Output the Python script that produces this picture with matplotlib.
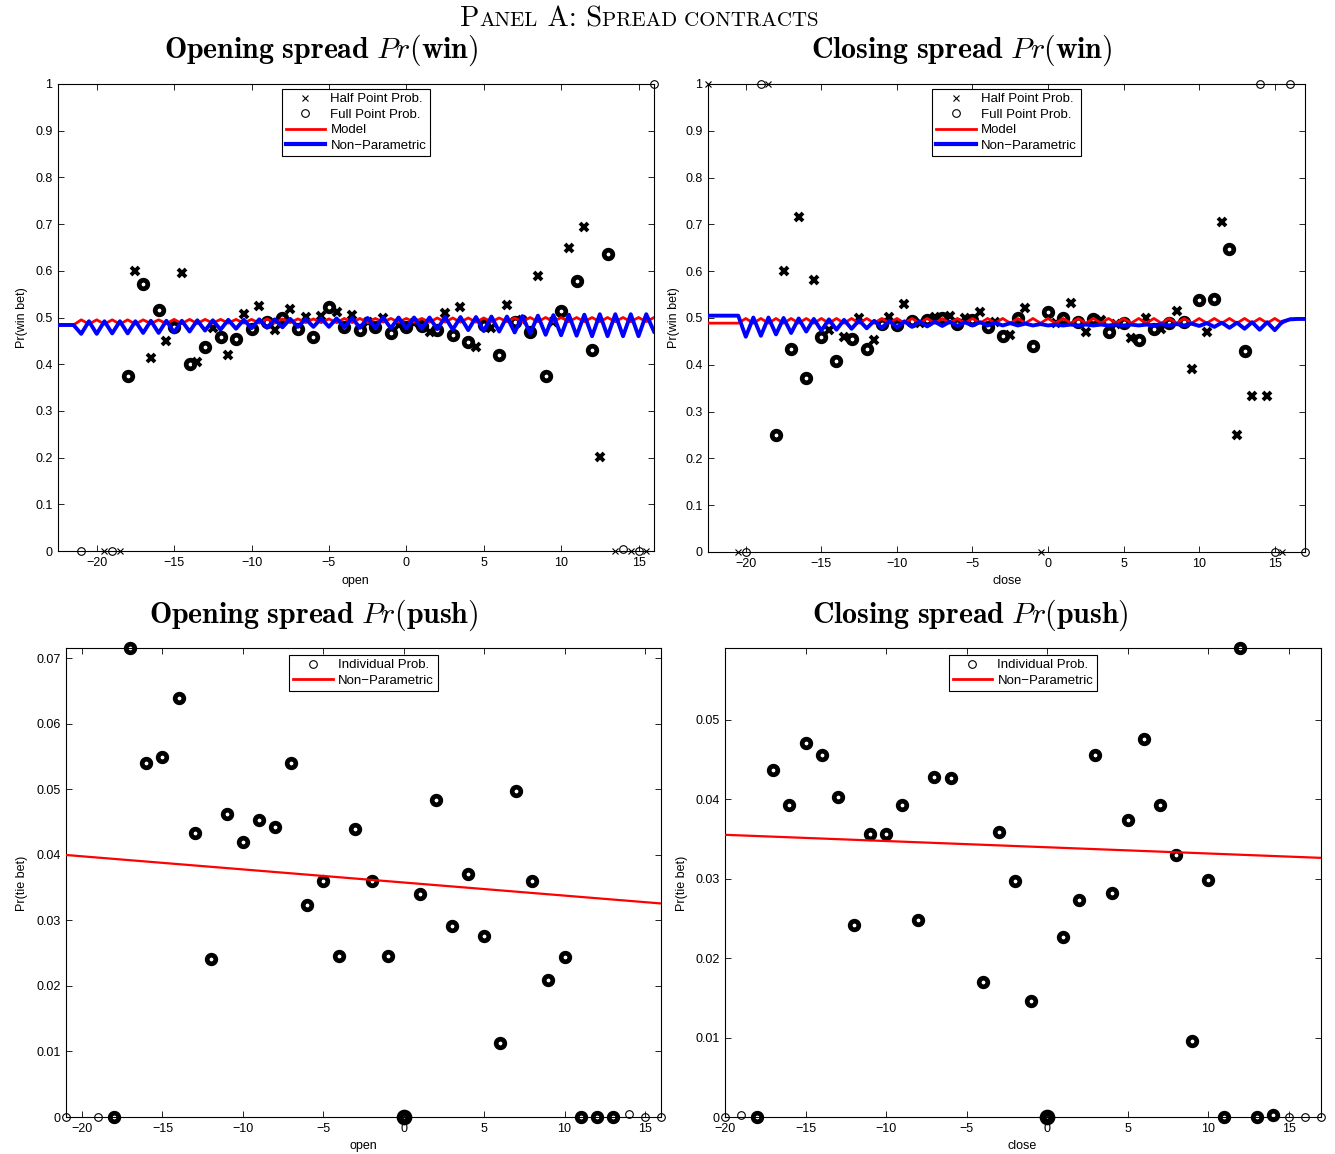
import numpy as np
import matplotlib
matplotlib.use("Agg")
import matplotlib.pyplot as plt
from matplotlib.lines import Line2D
from matplotlib.ticker import FormatStrFormatter
from matplotlib.offsetbox import TextArea, HPacker, AnchoredOffsetbox

plt.rcParams['font.family'] = ['Liberation Sans', 'DejaVu Sans']
plt.rcParams['mathtext.fontset'] = 'cm'

# ---------------- Pr(win), opening spread ----------------
open_half_x = [-19.5, -18.5, -17.5, -16.5, -15.5, -14.5, -13.5, -12.5, -11.5, -10.5, -9.5, -8.5,
               -7.5, -6.5, -5.5, -4.5, -3.5, -2.5, -1.5, -0.5, 0.5, 1.5, 2.5, 3.5, 4.5, 5.5,
               6.5, 7.5, 8.5, 9.5, 10.5, 11.5, 12.5, 13.5, 14.5, 15.5]
open_half_p = [0.0, 0.0, 0.600, 0.413, 0.450, 0.595, 0.405, 0.478, 0.420, 0.507, 0.525, 0.473,
               0.518, 0.501, 0.503, 0.512, 0.506, 0.490, 0.499, 0.485, 0.488, 0.469, 0.510, 0.523, 0.437, 0.477,
               0.527, 0.495, 0.589, 0.490, 0.648, 0.694, 0.201, 0.0, 0.0, 0.0]
open_full_x = [-21, -19, -18, -17, -16, -15, -14, -13, -12, -11, -10, -9, -8, -7, -6, -5, -4,
               -3, -2, -1, 0, 1, 2, 3, 4, 5, 6, 7, 8, 9, 10, 11, 12, 13, 14, 15, 16]
open_full_p = [0.0, 0.0, 0.375, 0.572, 0.515, 0.479, 0.400, 0.437, 0.458, 0.455, 0.475, 0.491, 0.498,
               0.475, 0.459, 0.523, 0.479, 0.473, 0.479, 0.466, 0.479, 0.482, 0.473, 0.462, 0.448,
               0.484, 0.420, 0.491, 0.470, 0.375, 0.514, 0.579, 0.430, 0.636, 0.005, 0.0, 1.0]

# fitted curves on the half-point grid: whole-point spreads and half-point spreads
open_curve_int_x = list(range(-22, 17))
open_curve_half_x = [v - 0.5 for v in range(-22, 17)]
open_model_int = [0.484, 0.495, 0.495, 0.495, 0.495, 0.495, 0.495, 0.496, 0.496, 0.496, 0.496, 0.496, 0.496,
                  0.497, 0.497, 0.497, 0.497, 0.497, 0.498, 0.498, 0.498, 0.498, 0.498, 0.498, 0.499, 0.499,
                  0.499, 0.499, 0.499, 0.499, 0.500, 0.500, 0.500, 0.500, 0.500, 0.500, 0.500, 0.500, 0.500]
open_model_half = [0.484, 0.484, 0.486, 0.486, 0.486, 0.486, 0.487, 0.487, 0.487, 0.487, 0.488, 0.488, 0.488,
                   0.488, 0.488, 0.489, 0.489, 0.489, 0.489, 0.489, 0.489, 0.490, 0.490, 0.490, 0.490, 0.490,
                   0.490, 0.490, 0.491, 0.491, 0.491, 0.491, 0.491, 0.491, 0.491, 0.491, 0.491, 0.491, 0.491]
open_np_int = [0.484, 0.465, 0.465, 0.466, 0.466, 0.467, 0.467, 0.468, 0.470, 0.472, 0.474, 0.476, 0.477,
               0.478, 0.479, 0.480, 0.480, 0.480, 0.479, 0.478, 0.478, 0.477, 0.477, 0.476, 0.475, 0.474,
               0.473, 0.471, 0.470, 0.468, 0.466, 0.463, 0.462, 0.461, 0.460, 0.460, 0.460, 0.460, 0.470]
open_np_half = [0.484, 0.484, 0.492, 0.492, 0.492, 0.492, 0.493, 0.493, 0.493, 0.494, 0.494, 0.495, 0.495,
                0.496, 0.496, 0.497, 0.497, 0.498, 0.498, 0.499, 0.499, 0.500, 0.500, 0.500, 0.500, 0.501,
                0.501, 0.501, 0.502, 0.502, 0.503, 0.504, 0.505, 0.506, 0.506, 0.507, 0.507, 0.507, 0.507]

# ---------------- Pr(win), closing spread ----------------
close_half_x = [-22.5, -20.5, -18.5, -17.5, -16.5, -15.5, -14.5, -13.5, -12.5, -11.5, -10.5, -9.5,
                -8.5, -7.5, -6.5, -5.5, -4.5, -3.5, -2.5, -1.5, -0.5, 0.5, 1.5, 2.5, 3.5, 4.5,
                5.5, 6.5, 7.5, 8.5, 9.5, 10.5, 11.5, 12.5, 13.5, 14.5, 15.5]
close_half_p = [1.0, 0.0, 1.0, 0.600, 0.715, 0.581, 0.474, 0.460, 0.499, 0.453, 0.503, 0.530,
                0.490, 0.503, 0.504, 0.500, 0.513, 0.492, 0.464, 0.521, 0.0, 0.490, 0.533, 0.471, 0.495, 0.488,
                0.457, 0.501, 0.476, 0.516, 0.392, 0.471, 0.706, 0.250, 0.334, 0.334, 0.0]
close_full_x = [-20, -19, -18, -17, -16, -15, -14, -13, -12, -11, -10, -9, -8, -7, -6, -5, -4, -3,
                -2, -1, 0, 1, 2, 3, 4, 5, 6, 7, 8, 9, 10, 11, 12, 13, 14, 15, 16, 17]
close_full_p = [0.0, 1.0, 0.250, 0.434, 0.372, 0.460, 0.409, 0.455, 0.434, 0.487, 0.485, 0.494, 0.496,
                0.499, 0.487, 0.496, 0.481, 0.462, 0.499, 0.440, 0.512, 0.501, 0.491, 0.498, 0.471,
                0.489, 0.452, 0.476, 0.489, 0.492, 0.538, 0.541, 0.647, 0.429, 1.0, 0.0, 1.0, 0.0]

close_curve_int_x = list(range(-22, 18))
close_curve_half_x = [v - 0.5 for v in range(-22, 18)]
close_model_int = [0.489, 0.489, 0.499, 0.499, 0.499, 0.499, 0.499, 0.499, 0.499, 0.499, 0.499, 0.499,
                   0.499, 0.499, 0.499, 0.499, 0.499, 0.499, 0.499, 0.499, 0.499, 0.499, 0.499, 0.499,
                   0.499, 0.499, 0.499, 0.499, 0.499, 0.499, 0.499, 0.499, 0.499, 0.499, 0.499, 0.499,
                   0.499, 0.499, 0.498, 0.498]
close_model_half = [0.489, 0.489, 0.489, 0.489, 0.489, 0.489, 0.489, 0.489, 0.489, 0.489, 0.489, 0.489,
                    0.489, 0.489, 0.489, 0.489, 0.489, 0.489, 0.489, 0.489, 0.489, 0.489, 0.489, 0.489,
                    0.489, 0.489, 0.489, 0.489, 0.489, 0.489, 0.489, 0.489, 0.489, 0.489, 0.489, 0.489,
                    0.489, 0.489, 0.489, 0.498]
close_np_int = [0.505, 0.505, 0.460, 0.462, 0.465, 0.468, 0.471, 0.473, 0.475, 0.477, 0.478, 0.479,
                0.480, 0.481, 0.482, 0.483, 0.483, 0.484, 0.484, 0.484, 0.484, 0.484, 0.484, 0.484,
                0.484, 0.484, 0.484, 0.484, 0.484, 0.484, 0.484, 0.484, 0.483, 0.481, 0.479, 0.477,
                0.475, 0.474, 0.497, 0.498]
close_np_half = [0.505, 0.505, 0.505, 0.501, 0.501, 0.500, 0.499, 0.498, 0.497, 0.496, 0.495, 0.494,
                 0.494, 0.493, 0.493, 0.492, 0.492, 0.491, 0.491, 0.490, 0.489, 0.488, 0.487, 0.486,
                 0.486, 0.486, 0.486, 0.486, 0.486, 0.486, 0.487, 0.487, 0.488, 0.489, 0.490, 0.490,
                 0.491, 0.491, 0.492, 0.498]

# ---------------- Pr(push) ----------------
push_open_x = [-21, -19, -18, -17, -16, -15, -14, -13, -12, -11, -10, -9, -8, -7, -6, -5, -4, -3, -2,
               -1, 0, 1, 2, 3, 4, 5, 6, 7, 8, 9, 10, 11, 12, 13, 14, 15, 16]
push_open_p = [0.0, 0.0, 0.0, 0.0716, 0.0541, 0.0549, 0.0640, 0.0433, 0.0241, 0.0462, 0.0420, 0.0454,
               0.0442, 0.0541, 0.0324, 0.0361, 0.0246, 0.0440, 0.0361, 0.0246, 0.0, 0.0341, 0.0484,
               0.0292, 0.0371, 0.0277, 0.0113, 0.0497, 0.0361, 0.0209, 0.0245, 0.0, 0.0, 0.0, 0.0005,
               0.0, 0.0]
push_open_line_x = [-21, 16]
push_open_line_p = [0.0400, 0.0326]

push_close_x = [-20, -19, -18, -17, -16, -15, -14, -13, -12, -11, -10, -9, -8, -7, -6, -4, -3, -2, -1,
                0, 1, 2, 3, 4, 5, 6, 7, 8, 9, 10, 11, 12, 13, 14, 15, 16, 17]
push_close_p = [0.0, 0.0003, 0.0, 0.0436, 0.0393, 0.0471, 0.0455, 0.0402, 0.0242, 0.0356, 0.0356,
                0.0392, 0.0248, 0.0428, 0.0427, 0.0170, 0.0359, 0.0297, 0.0146, 0.0, 0.0227, 0.0273,
                0.0456, 0.0282, 0.0374, 0.0476, 0.0393, 0.0330, 0.0096, 0.0298, 0.0, 0.0590, 0.0,
                0.0003, 0.0, 0.0, 0.0]
push_close_line_x = [-20, 17]
push_close_line_p = [0.0355, 0.0326]

W, H = 1335, 1154
fig = plt.figure(figsize=(W / 100, H / 100), dpi=100)


def fpos(x0, y0, x1, y1):
    # pixel box -> figure fraction
    return [x0 / W, 1 - y1 / H, (x1 - x0) / W, (y1 - y0) / H]


def style_axes(ax):
    for s in ax.spines.values():
        s.set_linewidth(0.8)
    ax.tick_params(direction='in', length=4, width=0.6, top=True, right=True,
                   labelsize=9, pad=4)
    ax.yaxis.set_major_formatter(FormatStrFormatter('%g'))


def marks(ax, x, y, marker, bold):
    x = np.asarray(x, float)
    y = np.asarray(y, float)
    bold = np.asarray(bold, bool)
    if marker == 'o':
        thin_kw, bold_kw = dict(ms=5.5, mew=0.8), dict(ms=6.2, mew=3.4)
    else:
        thin_kw, bold_kw = dict(ms=4, mew=0.8), dict(ms=5.8, mew=2.8)
    ax.plot(x[~bold], y[~bold], ls='none', marker=marker, mfc='none', mec='k',
            clip_on=False, zorder=3, **thin_kw)
    ax.plot(x[bold], y[bold], ls='none', marker=marker, mfc='none', mec='k',
            clip_on=False, zorder=3, **bold_kw)


def zigzag(x_half, v_half, x_int, v_int):
    xs = np.concatenate([x_half, x_int])
    vs = np.concatenate([v_half, v_int])
    order = np.argsort(xs)
    return xs[order], vs[order]


win_handles = [
    Line2D([], [], ls='none', marker='x', color='k', ms=4, mew=0.8),
    Line2D([], [], ls='none', marker='o', mfc='none', mec='k', ms=5.5, mew=0.8),
    Line2D([], [], color='red', lw=2),
    Line2D([], [], color='blue', lw=3),
]
win_labels = ['Half Point Prob.', 'Full Point Prob.', 'Model', 'Non\u2212Parametric']
push_handles = [
    Line2D([], [], ls='none', marker='o', mfc='none', mec='k', ms=5.5, mew=0.8),
    Line2D([], [], color='red', lw=2),
]
push_labels = ['Individual Prob.', 'Non\u2212Parametric']


def add_legend(ax, handles, labels, gap_px, height_px):
    leg = ax.legend(handles, labels, loc='upper center', bbox_to_anchor=(0.5, 1 - gap_px / height_px),
                    borderaxespad=0, fontsize=9.5, fancybox=False, edgecolor='black', framealpha=1,
                    handlelength=3, handletextpad=0.4, labelspacing=0.25, borderpad=0.3)
    leg.get_frame().set_linewidth(0.8)
    leg.set_zorder(5)


panels_win = [
    (fpos(58, 84, 654, 551), (-22.5, 16), open_half_x, open_half_p, open_full_x, open_full_p,
     zigzag(open_curve_half_x, open_model_half, open_curve_int_x, open_model_int),
     zigzag(open_curve_half_x, open_np_half, open_curve_int_x, open_np_int), 'open', 355, 22),
    (fpos(708, 84, 1305, 552), (-22.5, 17), close_half_x, close_half_p, close_full_x, close_full_p,
     zigzag(close_curve_half_x, close_model_half, close_curve_int_x, close_model_int),
     zigzag(close_curve_half_x, close_np_half, close_curve_int_x, close_np_int), 'close', 1007, 674),
]

for pos, xlim, hx, hp, fx, fp, model, nonpar, xname, xlab_px, ylab_px in panels_win:
    ax = fig.add_axes(pos)
    hp_a, fp_a = np.asarray(hp), np.asarray(fp)
    marks(ax, hx, hp, 'x', (hp_a > 0.01) & (hp_a < 0.99))
    marks(ax, fx, fp, 'o', (fp_a > 0.01) & (fp_a < 0.99))
    ax.plot(model[0], model[1], color='red', lw=2, zorder=4)
    ax.plot(nonpar[0], nonpar[1], color='blue', lw=2.8, zorder=4)
    ax.set_xlim(*xlim)
    ax.set_ylim(0, 1)
    ax.set_xticks([-20, -15, -10, -5, 0, 5, 10, 15])
    ax.set_yticks(np.arange(0, 1.01, 0.1))
    style_axes(ax)
    add_legend(ax, win_handles, win_labels, 5, 467)
    fig.text(xlab_px / W, 1 - 581 / H, xname, ha='center', va='center', fontsize=9)
    fig.text(ylab_px / W, 1 - 318 / H, 'Pr(win bet)', ha='center', va='center', fontsize=9, rotation=90)

panels_push = [
    (fpos(66, 648, 661, 1117), (-21, 16), push_open_x, push_open_p, push_open_line_x, push_open_line_p,
     [-21, -19, 14, 15, 16], [0, 0.01, 0.02, 0.03, 0.04, 0.05, 0.06, 0.07], 'open', 363, 22),
    (fpos(725, 648, 1321, 1117), (-20, 17), push_close_x, push_close_p, push_close_line_x, push_close_line_p,
     [-20, -19, 15, 16, 17], [0, 0.01, 0.02, 0.03, 0.04, 0.05], 'close', 1022, 682),
]

for pos, xlim, px_, pp, lx, lp, sparse, yt, xname, xlab_px, ylab_px in panels_push:
    ax = fig.add_axes(pos)
    xa = np.asarray(px_, float)
    pa = np.asarray(pp, float)
    heavy = ~np.isin(xa, sparse)
    marks(ax, xa[xa != 0], pa[xa != 0], 'o', heavy[xa != 0])
    ax.plot(xa[xa == 0], pa[xa == 0], ls='none', marker='o', mfc='none', mec='k', ms=6.5, mew=4.8,
            clip_on=False, zorder=3)
    ax.plot(lx, lp, color='red', lw=1.6, zorder=4)
    ax.set_xlim(*xlim)
    ax.set_ylim(0, max(pp))
    ax.set_xticks([-20, -15, -10, -5, 0, 5, 10, 15])
    ax.set_yticks(yt)
    style_axes(ax)
    add_legend(ax, push_handles, push_labels, 7, 469)
    fig.text(xlab_px / W, 1 - 1146 / H, xname, ha='center', va='center', fontsize=9)
    fig.text(ylab_px / W, 1 - 883 / H, 'Pr(tie bet)', ha='center', va='center', fontsize=9, rotation=90)

# panel titles
titles = [
    (321, 50, r'$\mathbf{Opening\ spread}\ Pr(\mathbf{win})$'),
    (962, 50, r'$\mathbf{Closing\ spread}\ Pr(\mathbf{win})$'),
    (314, 615, r'$\mathbf{Opening\ spread}\ Pr(\mathbf{push})$'),
    (970, 615, r'$\mathbf{Closing\ spread}\ Pr(\mathbf{push})$'),
]
for tx, ty, t in titles:
    fig.text(tx / W, 1 - ty / H, t, ha='center', va='center', fontsize=21.5)

# small-caps heading
big = dict(fontfamily='cmr10', fontsize=20.5)
small = dict(fontfamily='cmr10', fontsize=15)
pieces = [('P', big), ('ANEL', small), (' A: S', big), ('PREAD CONTRACTS', small)]
box = HPacker(children=[TextArea(s, textprops=p) for s, p in pieces], align='baseline', pad=0, sep=0)
anchored = AnchoredOffsetbox(loc='center', child=box, pad=0, borderpad=0, frameon=False,
                             bbox_to_anchor=(639 / W, 1 - 19 / H), bbox_transform=fig.transFigure)
fig.add_artist(anchored)

fig.savefig('out.png', dpi=100)
